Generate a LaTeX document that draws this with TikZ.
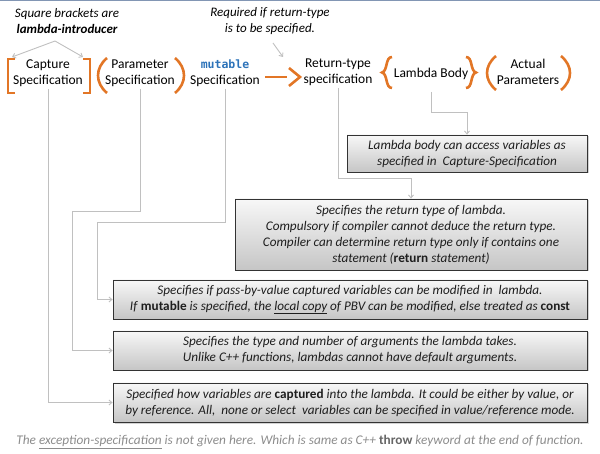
\documentclass[tikz,border=0pt]{standalone}
\usepackage{fontspec}
\setmainfont{Carlito}
\newfontfamily\codefont{DejaVu Sans Mono}
\usepackage{xcolor}
\definecolor{bracketorange}{RGB}{226,118,38}
\definecolor{mutableblue}{RGB}{45,115,185}
\definecolor{linegray}{RGB}{192,192,192}
\definecolor{topbar}{RGB}{130,150,180}
\definecolor{boxtext}{RGB}{30,30,30}
\definecolor{footgray}{RGB}{140,140,140}
\usetikzlibrary{arrows.meta,shadows}

\begin{document}
\begin{tikzpicture}[x=1pt, y=-1pt,
    hdr/.style={align=center, inner sep=0pt, font=\fontsize{13.5}{16}\selectfont},
    note/.style={align=center, inner sep=0pt, font=\fontsize{13}{16}\selectfont\itshape},
    infobox/.style={draw=black!80, line width=0.8pt, top color=gray!6, bottom color=gray!45,
        drop shadow={shadow xshift=1.5pt, shadow yshift=-1.5pt, opacity=0.35},
        align=center, inner sep=0pt, text=boxtext, font=\fontsize{13.2}{16}\selectfont\itshape},
    conn/.style={draw=linegray, line width=0.9pt, -{Straight Barb[length=3pt, width=5pt]}},
    brk/.style={draw=bracketorange, line width=2.6pt}]
    \useasboundingbox (0,0) rectangle (600,454);
    \fill[topbar] (0,0) rectangle (600,1.5);
    % notes above
    \node[note] (sqnote) at (67,21) {Square brackets are\\\textbf{lambda-introducer}};
    \node[note] (retnote) at (270,21) {Required if return-type\\is to be specified.};
    \coordinate (sqtip) at (55,41);
    \coordinate (lsq) at (12,57);
    \coordinate (rsq) at (83,57);
    \coordinate (rettip) at (273,43);
    \coordinate (arrowhead) at (283,57);
    \draw[conn] (sqtip) -- (lsq);
    \draw[conn] (sqtip) -- (rsq);
    \draw[conn] (rettip) -- (arrowhead);
    % lambda parts
    \node[hdr] (capture) at (48,73) {Capture\\Specification};
    \node[hdr] (param) at (140,73) {Parameter\\Specification};
    \node[hdr] (mutable) at (225,73) {{\codefont\bfseries\fontsize{11.5}{16}\selectfont\color{mutableblue}mutable}\\Specification};
    \node[hdr] (ret) at (338,72) {Return-type\\specification};
    \node[hdr] (body) at (431,74) {Lambda Body};
    \node[hdr] (actual) at (528,72) {Actual\\Parameters};
    % brackets
    \draw[brk] (15,59) -- (8,59) -- (8,93) -- (15,93);
    \draw[brk] (83,59) -- (90,59) -- (90,93) -- (83,93);
    \draw[brk] (107,58) .. controls (95,68) and (95,83) .. (107,93);
    \draw[brk] (175,58) .. controls (187,68) and (187,83) .. (175,93);
    \draw[brk] (265,77) -- (287,77);
    \draw[brk] (289,68) -- (300,77) -- (289,86);
    \draw[brk] (392,57) .. controls (385,57) and (388,71) .. (382,72.5) .. controls (388,74) and (385,88) .. (392,88);
    \draw[brk] (466,57) .. controls (473,57) and (470,71) .. (476,72.5) .. controls (470,74) and (473,88) .. (466,88);
    \draw[brk] (496,56) .. controls (484,66) and (484,80) .. (496,90);
    \draw[brk] (561,56) .. controls (573,66) and (573,80) .. (561,90);
    % explanation boxes
    \node[infobox, minimum width=240pt, minimum height=37pt] (box1) at (467,153.5)
        {Lambda body can access variables as\\specified in \ Capture-Specification};
    \node[infobox, minimum width=352pt, minimum height=71pt] (box2) at (411,234.5)
        {Specifies the return type of lambda.\\Compulsory if compiler cannot deduce the return type.\\Compiler can determine return type only if contains one\\statement (\textup{\textbf{return}} statement)};
    \node[infobox, minimum width=474pt, minimum height=39pt] (box3) at (350,299.5)
        {Specifies if pass-by-value captured variables can be modified in \ lambda.\\If \textup{\textbf{mutable}} is specified, the \underline{local copy} of PBV can be modified, else treated as \textup{\textbf{const}}};
    \node[infobox, minimum width=474pt, minimum height=39pt] (box4) at (350,350.5)
        {Specifies the type and number of arguments the lambda takes.\\Unlike C++ functions, lambdas cannot have default arguments.};
    \node[infobox, minimum width=474pt, minimum height=39pt] (box5) at (350,402.5)
        {Specified how variables are \textup{\textbf{captured}} into the lambda. It could be either by value, or\\by reference. All, \ none or select \ variables can be specified in value/reference mode.};
    % connectors
    \coordinate (parambend) at (72,211);
    \coordinate (mutbend) at (97,222);
    \draw[conn] ([yshift=-2pt]capture.south) |- (box5.west);
    \draw[conn] ([yshift=-2pt]param.south) |- (parambend) |- (box4.west);
    \draw[conn] ([yshift=-2pt]mutable.south) |- (mutbend) |- (box3.west);
    \draw[conn] ([yshift=-2pt]ret.south) |- ([yshift=20pt]box2.north) -- (box2.north);
    \draw[conn] ([yshift=-12pt]body.south) |- ([yshift=22pt]box1.north) -- (box1.north);
    % footnote
    \node[inner sep=0pt, text=footgray, font=\fontsize{13.3}{14}\selectfont\itshape] (foot) at (300,442)
        {The \underline{exception-specification} is not given here. Which is same as C++ \textup{\textbf{\color{black!60}throw}} keyword at the end of function.};
\end{tikzpicture}
\end{document}
